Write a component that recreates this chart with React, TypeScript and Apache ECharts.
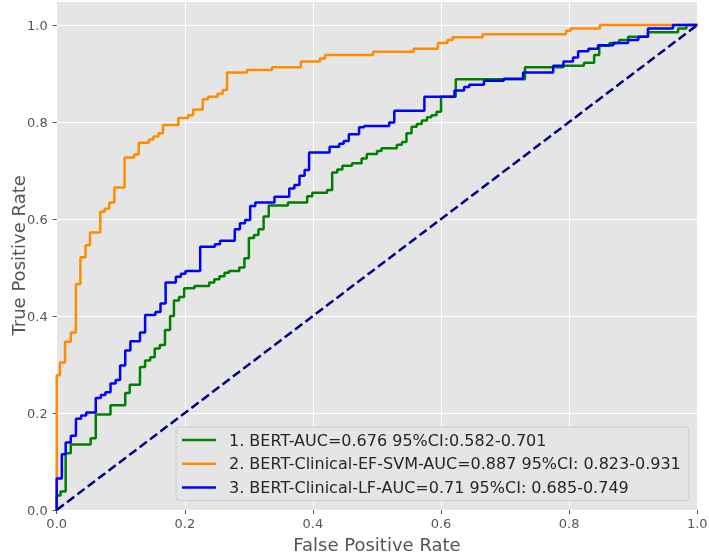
import React, { useEffect, useRef } from "react";
import * as echarts from "echarts";

const bertFpr = [0, 0, 0.006, 0.014, 0.022, 0.053, 0.061, 0.084, 0.107, 0.114, 0.13, 0.138, 0.146, 0.153, 0.161, 0.169, 0.177, 0.183, 0.191, 0.199, 0.215, 0.238, 0.246, 0.254, 0.262, 0.269, 0.285, 0.293, 0.3, 0.308, 0.315, 0.323, 0.331, 0.361, 0.391, 0.399, 0.422, 0.43, 0.438, 0.446, 0.461, 0.476, 0.484, 0.5, 0.507, 0.531, 0.539, 0.546, 0.554, 0.562, 0.57, 0.578, 0.585, 0.593, 0.6, 0.623, 0.731, 0.791, 0.823, 0.839, 0.847, 0.863, 0.878, 0.892, 0.923, 0.97, 0.983, 1];
const bertTpr = [0, 0.03, 0.038, 0.117, 0.135, 0.148, 0.197, 0.216, 0.241, 0.258, 0.295, 0.308, 0.315, 0.333, 0.34, 0.371, 0.4, 0.432, 0.439, 0.457, 0.462, 0.469, 0.476, 0.482, 0.489, 0.493, 0.5, 0.519, 0.561, 0.567, 0.579, 0.605, 0.628, 0.634, 0.647, 0.654, 0.66, 0.696, 0.702, 0.71, 0.715, 0.725, 0.734, 0.74, 0.746, 0.753, 0.759, 0.777, 0.79, 0.796, 0.803, 0.81, 0.814, 0.821, 0.852, 0.888, 0.913, 0.916, 0.922, 0.938, 0.957, 0.963, 0.969, 0.976, 0.985, 0.993, 1, 1];

const efFpr = [0, 0, 0.005, 0.013, 0.022, 0.03, 0.037, 0.045, 0.052, 0.068, 0.075, 0.082, 0.09, 0.106, 0.121, 0.128, 0.144, 0.151, 0.159, 0.166, 0.19, 0.205, 0.213, 0.228, 0.236, 0.251, 0.259, 0.266, 0.297, 0.336, 0.381, 0.411, 0.419, 0.494, 0.557, 0.595, 0.61, 0.618, 0.665, 0.795, 0.802, 0.848, 1];
const efTpr = [0, 0.278, 0.304, 0.347, 0.366, 0.466, 0.521, 0.546, 0.572, 0.615, 0.621, 0.634, 0.665, 0.727, 0.733, 0.757, 0.764, 0.77, 0.777, 0.794, 0.808, 0.814, 0.826, 0.847, 0.852, 0.858, 0.866, 0.902, 0.907, 0.913, 0.925, 0.931, 0.938, 0.945, 0.951, 0.963, 0.969, 0.975, 0.981, 0.988, 0.993, 1, 1];

const lfFpr = [0, 0, 0.008, 0.014, 0.022, 0.03, 0.038, 0.046, 0.061, 0.069, 0.076, 0.084, 0.092, 0.099, 0.107, 0.115, 0.13, 0.138, 0.154, 0.162, 0.17, 0.186, 0.194, 0.201, 0.224, 0.247, 0.255, 0.278, 0.286, 0.294, 0.302, 0.31, 0.34, 0.363, 0.371, 0.379, 0.387, 0.394, 0.426, 0.441, 0.448, 0.456, 0.472, 0.48, 0.519, 0.527, 0.574, 0.621, 0.636, 0.644, 0.667, 0.698, 0.728, 0.775, 0.791, 0.806, 0.814, 0.83, 0.845, 0.869, 0.892, 0.908, 0.923, 0.962, 1];
const lfTpr = [0, 0.065, 0.115, 0.139, 0.153, 0.188, 0.195, 0.201, 0.231, 0.237, 0.243, 0.261, 0.268, 0.298, 0.329, 0.348, 0.366, 0.402, 0.408, 0.426, 0.469, 0.481, 0.487, 0.493, 0.543, 0.548, 0.555, 0.579, 0.591, 0.598, 0.627, 0.634, 0.646, 0.663, 0.67, 0.689, 0.701, 0.737, 0.749, 0.755, 0.761, 0.775, 0.789, 0.792, 0.799, 0.823, 0.852, 0.865, 0.872, 0.877, 0.885, 0.889, 0.902, 0.916, 0.925, 0.933, 0.946, 0.951, 0.958, 0.963, 0.969, 0.976, 0.993, 1, 1];

const chanceFpr = [0, 1];
const chanceTpr = [0, 1];

const seriesNames = [
  "1. BERT-AUC=0.676 95%CI:0.582-0.701",
  "2. BERT-Clinical-EF-SVM-AUC=0.887 95%CI: 0.823-0.931",
  "3. BERT-Clinical-LF-AUC=0.71 95%CI: 0.685-0.749",
];
const seriesColors = ["#008000", "#ff8c00", "#0000ff"];

const pairs = (xs: number[], ys: number[]) => xs.map((x, i) => [x, ys[i]]);

const FONT = "DejaVu Sans";

export default function App() {
  const ref = useRef<HTMLDivElement>(null);
  useEffect(() => {
    if (!ref.current) return;
    const chart = echarts.init(ref.current, undefined, { renderer: "svg" });
    const curves = [
      pairs(bertFpr, bertTpr),
      pairs(efFpr, efTpr),
      pairs(lfFpr, lfTpr),
    ];
    chart.setOption({
      animation: false,
      grid: {
        left: 56.7,
        right: 11.7,
        top: 0.75,
        bottom: 44,
        show: true,
        backgroundColor: "#e5e5e5",
        borderWidth: 0,
        containLabel: false,
        outerBoundsMode: "none",
      },
      xAxis: {
        type: "value",
        min: 0,
        max: 1,
        interval: 0.2,
        name: "False Positive Rate",
        nameLocation: "middle",
        nameGap: 25,
        nameMoveOverlap: false,
        nameTextStyle: { fontFamily: FONT, fontSize: 18, color: "#555555" },
        axisLine: { show: false },
        axisTick: { show: true, length: 4, lineStyle: { color: "#555555", width: 1 } },
        axisLabel: {
          fontFamily: FONT,
          fontSize: 13,
          color: "#555555",
          margin: 7,
          formatter: (v: number) => v.toFixed(1),
        },
        splitLine: { show: true, lineStyle: { color: "#ffffff", width: 1 } },
      },
      yAxis: {
        type: "value",
        min: 0,
        max: 1.05,
        interval: 0.2,
        name: "True Positive Rate",
        nameLocation: "middle",
        nameGap: 29,
        nameMoveOverlap: false,
        nameTextStyle: { fontFamily: FONT, fontSize: 18, color: "#555555" },
        axisLine: { show: false },
        axisTick: { show: true, length: 4, lineStyle: { color: "#555555", width: 1 } },
        axisLabel: {
          fontFamily: FONT,
          fontSize: 13,
          color: "#555555",
          margin: 9,
          showMaxLabel: false,
          formatter: (v: number) => (v > 1.01 ? "" : v.toFixed(1)),
        },
        splitLine: { show: true, lineStyle: { color: "#ffffff", width: 1 } },
      },
      legend: {
        data: seriesNames,
        orient: "vertical",
        left: 176,
        top: 427,
        backgroundColor: "#e5e5e5",
        borderColor: "#cccccc",
        borderWidth: 1,
        borderRadius: 3,
        padding: [4, 8, 4, 6],
        itemGap: 5.7,
        itemWidth: 34,
        itemHeight: 2.5,
        icon: "rect",
        textStyle: {
          fontFamily: FONT,
          fontSize: 16,
          color: "#262626",
          lineHeight: 18,
          padding: [0, 0, 0, 8],
        },
      },
      series: [
        ...curves.map((d, i) => ({
          type: "line",
          name: seriesNames[i],
          data: d,
          step: "end",
          showSymbol: false,
          symbol: "none",
          color: seriesColors[i],
          lineStyle: { color: seriesColors[i], width: 2.5 },
          z: 3,
        })),
        {
          type: "line",
          name: "chance",
          data: pairs(chanceFpr, chanceTpr),
          showSymbol: false,
          symbol: "none",
          color: "#000080",
          lineStyle: { color: "#000080", width: 2.5, type: [9, 4] },
          z: 4,
        },
      ],
    });
    return () => chart.dispose();
  }, []);
  return (
    <div
      ref={ref}
      style={{ position: "fixed", left: 0, top: 0, width: 709, height: 554 }}
    />
  );
}
